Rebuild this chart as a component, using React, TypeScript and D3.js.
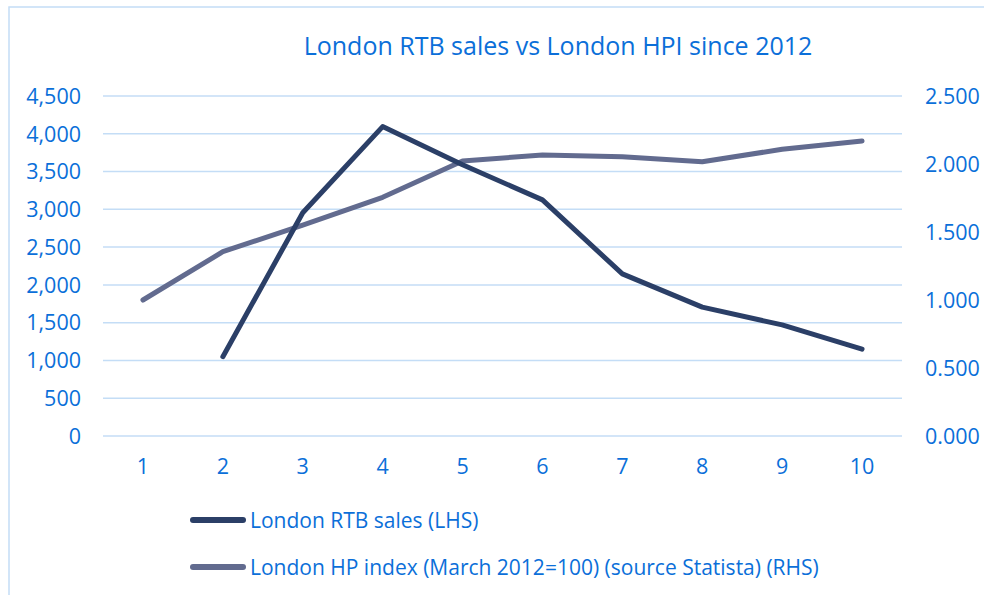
import React, { useEffect, useRef } from 'react';
import * as d3 from 'd3';

// Chart data
const categories = ['1', '2', '3', '4', '5', '6', '7', '8', '9', '10'];
const rtbSales: (number | null)[] = [null, 1050, 2955, 4095, 3590, 3125, 2145, 1705, 1470, 1150];
const hpIndex = [1.0, 1.355, 1.551, 1.755, 2.022, 2.066, 2.054, 2.017, 2.108, 2.169];
const leftTicks = [0, 500, 1000, 1500, 2000, 2500, 3000, 3500, 4000, 4500];
const rightTicks = [0, 0.5, 1, 1.5, 2, 2.5];
const seriesNames = ['London RTB sales (LHS)', 'London HP index (March 2012=100) (source Statista) (RHS)'];

const W = 984;
const H = 595;
const FONT = "'Open Sans', 'Noto Sans', sans-serif";
const BLUE = '#0b6fd9';
const GRID = '#c4ddf6';
const RTB_COLOR = '#2b3f67';
const HPI_COLOR = '#626b8f';

const App = () => {
  const svgRef = useRef<SVGSVGElement>(null);

  useEffect(() => {
    const svg = d3.select(svgRef.current);
    svg.selectAll('*').remove();

    // plot area
    const left = 103, right = 902, top = 96, bottom = 436;

    // outer chart frame
    svg.append('rect')
      .attr('x', 9).attr('y', 7)
      .attr('width', W + 20).attr('height', H + 20)
      .attr('fill', 'white')
      .attr('stroke', GRID).attr('stroke-width', 1.5);

    // title
    svg.append('text')
      .attr('x', 558).attr('y', 55)
      .attr('text-anchor', 'middle')
      .attr('font-family', FONT).attr('font-size', 25)
      .attr('fill', BLUE)
      .text('London RTB sales vs London HPI since 2012');

    const x = d3.scalePoint<string>().domain(categories).range([left, right]).padding(0.5);
    const yL = d3.scaleLinear().domain([0, 4500]).range([bottom, top]);
    const yR = d3.scaleLinear().domain([0, 2.5]).range([bottom, top]);

    // gridlines
    svg.append('g')
      .selectAll('line')
      .data(leftTicks)
      .join('line')
      .attr('x1', left).attr('x2', right)
      .attr('y1', d => yL(d)).attr('y2', d => yL(d))
      .attr('stroke', GRID).attr('stroke-width', 1.5);

    // left axis labels
    svg.append('g')
      .selectAll('text')
      .data(leftTicks)
      .join('text')
      .attr('x', 81).attr('y', d => yL(d))
      .attr('dy', '0.36em')
      .attr('text-anchor', 'end')
      .attr('font-family', FONT).attr('font-size', 21.5)
      .attr('fill', BLUE)
      .text(d => d3.format(',')(d));

    // right axis labels
    svg.append('g')
      .selectAll('text')
      .data(rightTicks)
      .join('text')
      .attr('x', 925).attr('y', d => yR(d))
      .attr('dy', '0.36em')
      .attr('font-family', FONT).attr('font-size', 21.5)
      .attr('fill', BLUE)
      .text(d => d3.format('.3f')(d));

    // x labels
    svg.append('g')
      .selectAll('text')
      .data(categories)
      .join('text')
      .attr('x', d => x(d)!).attr('y', 466)
      .attr('dy', '0.36em')
      .attr('text-anchor', 'middle')
      .attr('font-family', FONT).attr('font-size', 21.5)
      .attr('fill', BLUE)
      .text(d => d);

    // HPI line (RHS)
    const hpiLine = d3.line<number>()
      .x((_, i) => x(categories[i])!)
      .y(d => yR(d));

    svg.append('path')
      .datum(hpIndex)
      .attr('fill', 'none')
      .attr('stroke', HPI_COLOR)
      .attr('stroke-width', 5)
      .attr('stroke-linejoin', 'round')
      .attr('stroke-linecap', 'round')
      .attr('d', hpiLine);

    // RTB line (LHS)
    const rtbLine = d3.line<number | null>()
      .defined(d => d !== null)
      .x((_, i) => x(categories[i])!)
      .y(d => yL(d as number));

    svg.append('path')
      .datum(rtbSales)
      .attr('fill', 'none')
      .attr('stroke', RTB_COLOR)
      .attr('stroke-width', 5)
      .attr('stroke-linejoin', 'round')
      .attr('stroke-linecap', 'round')
      .attr('d', rtbLine);

    // legend
    const legend = svg.append('g')
      .selectAll('g')
      .data(seriesNames)
      .join('g')
      .attr('transform', (_, i) => `translate(0,${520 + i * 47})`);

    legend.append('line')
      .attr('x1', 193).attr('x2', 243)
      .attr('stroke', (_, i) => (i === 0 ? RTB_COLOR : HPI_COLOR))
      .attr('stroke-width', 6)
      .attr('stroke-linecap', 'round');

    legend.append('text')
      .attr('x', 250).attr('dy', '0.36em')
      .attr('font-family', FONT).attr('font-size', 21)
      .attr('fill', BLUE)
      .text(d => d);
  }, []);

  return (
    <svg
      ref={svgRef}
      width={W}
      height={H}
      style={{ position: 'absolute', left: 0, top: 0, background: 'white' }}
    />
  );
};

export default App;
